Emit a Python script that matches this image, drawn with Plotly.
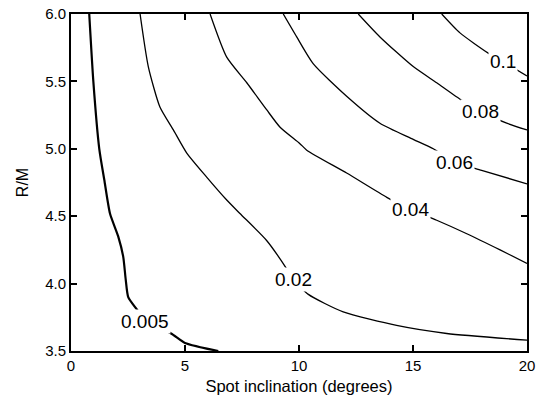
import plotly.graph_objects as go

# Contour levels and their traced lines (x = spot inclination in degrees, y = R/M)
levels = ["0.005", "0.02", "0.04", "0.06", "0.08", "0.1"]

x_0005 = [0.80, 0.98, 1.24, 1.46, 1.71, 2.07, 2.29, 2.40, 2.51, 2.88, 3.25, 4.39, 5.00, 6.46]
y_0005 = [6.00, 5.50, 5.00, 4.77, 4.52, 4.35, 4.20, 4.03, 3.90, 3.81, 3.72, 3.63, 3.56, 3.50]

x_002 = [3.03, 3.39, 3.90, 4.49, 5.07, 5.95, 6.83, 7.41, 8.58, 9.46, 9.75, 10.41, 11.94, 14.28, 16.48, 20.0]
y_002 = [6.00, 5.61, 5.31, 5.14, 4.97, 4.79, 4.62, 4.52, 4.32, 4.11, 4.03, 3.92, 3.79, 3.69, 3.63, 3.58]

x_004 = [6.10, 6.83, 7.71, 8.58, 9.17, 10.03, 10.34, 12.09, 13.85, 14.87, 16.04, 17.36, 18.82, 20.0]
y_004 = [6.00, 5.68, 5.49, 5.29, 5.16, 5.04, 4.99, 4.82, 4.64, 4.55, 4.47, 4.37, 4.25, 4.15]

x_006 = [9.31, 9.90, 10.63, 12.09, 13.55, 15.01, 15.89, 16.84, 18.01, 20.0]
y_006 = [6.00, 5.83, 5.63, 5.39, 5.19, 5.07, 5.00, 4.90, 4.84, 4.74]

x_008 = [12.60, 13.55, 15.01, 16.04, 17.14, 17.98, 19.11, 20.0]
y_008 = [6.00, 5.83, 5.61, 5.49, 5.36, 5.28, 5.19, 5.14]

x_01 = [16.26, 17.06, 18.30, 18.93, 20.0]
y_01 = [6.00, 5.86, 5.71, 5.65, 5.54]

# label positions on each contour
label_x = [3.25, 9.75, 14.87, 16.84, 17.98, 18.93]
label_y = [3.72, 4.03, 4.55, 4.90, 5.28, 5.65]

x_ticks = [0, 5, 10, 15, 20]
y_ticks = [3.5, 4.0, 4.5, 5.0, 5.5, 6.0]

lines_x = [x_0005, x_002, x_004, x_006, x_008, x_01]
lines_y = [y_0005, y_002, y_004, y_006, y_008, y_01]
widths = [2.2, 1.3, 1.3, 1.3, 1.3, 1.3]

FONT = "Liberation Sans, Arial, sans-serif"

fig = go.Figure()
for lx, ly, w, name in zip(lines_x, lines_y, widths, levels):
    fig.add_trace(go.Scatter(x=lx, y=ly, mode="lines", name=name,
                             line=dict(color="black", width=w, shape="spline", smoothing=0.6),
                             showlegend=False, hoverinfo="skip", cliponaxis=True))

for lx, ly, txt in zip(label_x, label_y, levels):
    fig.add_annotation(x=lx, y=ly, text=txt, showarrow=False,
                       font=dict(size=19, color="black", family=FONT),
                       bgcolor="white", borderpad=1)

axis_common = dict(showline=True, linecolor="black", linewidth=2, mirror="ticks",
                   ticks="inside", ticklen=6, tickwidth=2, tickcolor="black",
                   showgrid=False, zeroline=False, automargin=False,
                   ticklabeloverflow="allow",
                   tickfont=dict(size=15, color="black", family=FONT))

fig.update_xaxes(range=[0, 20], tickvals=x_ticks, ticktext=[str(v) for v in x_ticks],
                 title=dict(text="Spot inclination (degrees)", standoff=7,
                            font=dict(size=16.5, color="black", family=FONT)),
                 **axis_common)
fig.update_yaxes(range=[3.5, 6.0], tickvals=y_ticks, ticktext=[f"{v:.1f}" for v in y_ticks],
                 title=dict(text="R/M", standoff=13,
                            font=dict(size=16, color="black", family=FONT)),
                 **axis_common)

fig.update_layout(width=536, height=397, margin=dict(l=71, r=9, t=14, b=46),
                  plot_bgcolor="white", paper_bgcolor="white")

# remove the default page margin so the figure fills the window exactly
fig.write_html("out.html",
               config={"displayModeBar": False},
               post_script="document.body.style.margin='0';document.body.style.overflow='hidden';")
